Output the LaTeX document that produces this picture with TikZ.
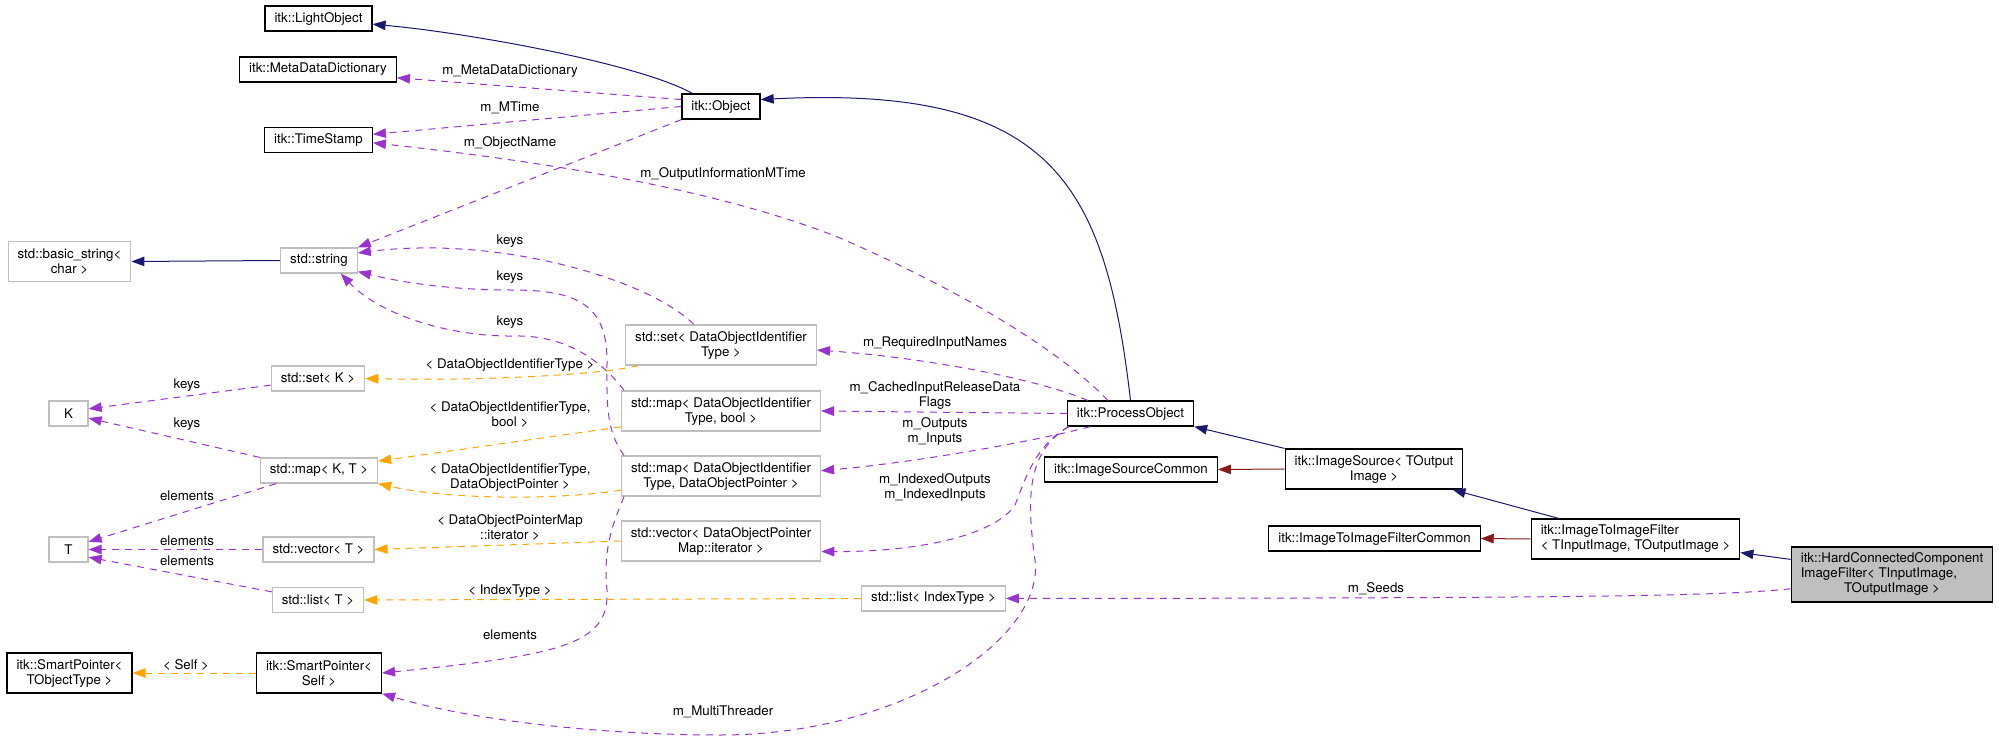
\documentclass[tikz,border=0pt]{standalone}
\usepackage{fontspec}
\setmainfont{TeX Gyre Heros}
\usetikzlibrary{arrows.meta, calc}
\definecolor{inhblue}{HTML}{191970}
\definecolor{privred}{HTML}{8B1A1A}
\definecolor{memviolet}{HTML}{9A32CD}
\definecolor{tplorange}{HTML}{FFA500}
\definecolor{boxgray}{HTML}{BFBFBF}
\newcommand{\dgfont}{\fontsize{13.3}{15}\selectfont}

\begin{document}
\begin{tikzpicture}[x=1pt, y=-1pt,
    cls/.style={draw=black, line width=1.2pt, fill=white, font=\dgfont, align=center,
                minimum height=25pt, inner xsep=9.5pt, inner ysep=0pt},
    ext/.style={cls, draw=boxgray},
    twoline/.style={minimum height=40pt},
    cur/.style={cls, fill=boxgray, minimum height=55pt},
    lab/.style={font=\dgfont, align=center, inner sep=0pt},
    tip/.style={-{Triangle[length=13pt, width=9.5pt]}},
    inh/.style={tip, draw=inhblue, line width=1pt},
    priv/.style={tip, draw=privred, line width=1pt},
    mem/.style={tip, draw=memviolet, line width=1pt, dash pattern=on 7pt off 6pt},
    tpl/.style={tip, draw=tplorange, line width=1pt, dash pattern=on 7pt off 6pt}]

    \useasboundingbox (0,0) rectangle (1999,741);

    % --- 1. 類別節點 (itk) ---
    \node[cls] (light) at (318.5,18.5) {itk::LightObject};
    \node[cls] (meta) at (318,69.5) {itk::MetaDataDictionary};
    \node[cls] (obj) at (721,106.5) {itk::Object};
    \node[cls] (stamp) at (318.5,140) {itk::TimeStamp};
    \node[cls] (proc) at (1130.5,413.5) {itk::ProcessObject};
    \node[cls] (srcCom) at (1131,469.5) {itk::ImageSourceCommon};
    \node[cls, twoline] (src) at (1374,469) {itk::ImageSource< TOutput\\Image >};
    \node[cls] (filtCom) at (1374.5,538.5) {itk::ImageToImageFilterCommon};
    \node[cls, twoline, align=left] (filt) at (1635.5,539) {itk::ImageToImageFilter\\< TInputImage, TOutputImage >};
    \node[cur] (hard) at (1892,574.5) {\begin{tabular}{@{}l@{}}itk::HardConnectedComponent\\ImageFilter< TInputImage,\\\multicolumn{1}{@{}c@{}}{TOutputImage >}\end{tabular}};
    \node[cls, twoline] (spObj) at (69.5,673) {itk::SmartPointer<\\TObjectType >};
    \node[cls, twoline] (spSelf) at (319,673) {itk::SmartPointer<\\Self >};

    % --- 2. 外部節點 (std) ---
    \node[ext, twoline] (bstr) at (69.5,261.5) {std::basic\_string<\\char >};
    \node[ext] (str) at (319,260.5) {std::string};
    \node[ext, twoline] (setDOI) at (721,345) {std::set< DataObjectIdentifier\\Type >};
    \node[ext] (setK) at (318,378.5) {std::set< K >};
    \node[ext, minimum width=39pt] (K) at (68.5,413.5) {K};
    \node[ext, twoline] (mapBool) at (721,411) {std::map< DataObjectIdentifier\\Type, bool >};
    \node[ext] (mapKT) at (319,470.5) {std::map< K, T >};
    \node[ext, twoline] (mapPtr) at (721,476) {std::map< DataObjectIdentifier\\Type, DataObjectPointer >};
    \node[ext, minimum width=39pt] (T) at (68.5,549.5) {T};
    \node[ext] (vecT) at (318.5,549.5) {std::vector< T >};
    \node[ext, twoline] (vecIt) at (721,541) {std::vector< DataObjectPointer\\Map::iterator >};
    \node[ext] (listT) at (318,600) {std::list< T >};
    \node[ext] (listIdx) at (933.5,598.5) {std::list< IndexType >};

    % --- 3. 繼承 ---
    \draw[inh] ($(obj.north west)+(11,0)$) .. controls (640,64) and (470,33) .. (light.-6);
    \draw[inh] (proc.north) .. controls (1105,180) and (1050,85) .. (obj.10);
    \draw[inh] (str.west) -- (bstr.east);
    \draw[inh] (src.north west) -- (proc.south east);
    \draw[inh] ($(filt.north west)+(28,0)$) -- ($(src.south east)+(-11,0)$);
    \draw[inh] ($(hard.north west)+(0,13)$) -- ($(filt.south east)+(0,-7)$);
    \draw[priv] (src.west) -- (srcCom.east);
    \draw[priv] (filt.west) -- (filtCom.east);

    % --- 4. 成員 ---
    \draw[mem] (obj.170) -- (meta.-6) node[lab] (lMeta) at (510,71) {m\_MetaDataDictionary};
    \draw[mem] (obj.west) -- (stamp.6) node[lab] (lMTime) at (510,108) {m\_MTime};
    \draw[mem] (obj.south west) -- (str.north east) node[lab] (lName) at (510,143) {m\_ObjectName};
    \draw[mem] (proc.150) .. controls (1060,350) and (960,290) .. (840,238)
        .. controls (720,190) and (550,162) .. (stamp.-3)
        node[lab] (lOutTime) at (723,174) {m\_OutputInformationMTime};
    \draw[mem] (proc.163) .. controls (1040,380) and (930,358) .. (setDOI.-3)
        node[lab] (lReq) at (935,343) {m\_RequiredInputNames};
    \draw[mem] (proc.west) -- (mapBool.east)
        node[lab] (lCached) at (935,395.5) {m\_CachedInputReleaseData\\Flags};
    \draw[mem] (proc.-162) .. controls (1040,440) and (920,462) .. (mapPtr.3)
        node[lab] (lOut) at (935,431.5) {m\_Outputs\\m\_Inputs};
    \draw[mem] (proc.-168) .. controls (1035,445) and (1025,480) .. (1015,505)
        .. controls (995,535) and (920,552) .. (vecIt.-6)
        node[lab] (lIdx) at (935,487.5) {m\_IndexedOutputs\\m\_IndexedInputs};
    \draw[mem] (proc.-168) .. controls (1030,450) and (1025,490) .. (1035,560)
        .. controls (1045,640) and (900,735) .. (720,735)
        .. controls (600,735) and (470,720) .. (spSelf.south east)
        node[lab] (lThr) at (723,712) {m\_MultiThreader};
    \draw[mem] (hard.-172) .. controls (1720,596) and (1600,598) .. (listIdx.east)
        node[lab] (lSeeds) at (1376,589) {m\_Seeds};

    % --- 5. keys / elements ---
    \draw[mem] (setDOI.143) .. controls (650,280) and (500,235) .. (str.11)
        node[lab] (lKeys1) at (510,241) {keys};
    \draw[mem] (mapPtr.168) .. controls (605,430) and (607,400) .. (607,360)
        .. controls (607,300) and (570,290) .. (510,290)
        .. controls (450,290) and (400,282) .. (str.-16)
        node[lab] (lKeys2) at (510,277) {keys};
    \draw[mem] (mapBool.168) .. controls (605,365) and (570,335) .. (515,336)
        .. controls (450,337) and (380,315) .. (str.-31)
        node[lab] (lKeys3) at (510,322) {keys};
    \draw[mem] (mapPtr.-168) .. controls (612,525) and (603,550) .. (607,590)
        .. controls (610,645) and (560,655) .. (spSelf.east)
        node[lab] (lElem1) at (510,635) {elements};
    \draw[mem] (setK.-172) -- (K.13) node[lab] (lKeys4) at (187,385) {keys};
    \draw[mem] (mapKT.north west) -- (K.-13) node[lab] (lKeys5) at (187,424) {keys};
    \draw[mem] (mapKT.-163) -- (T.21) node[lab] (lElem2) at (187,496) {elements};
    \draw[mem] (vecT.west) -- (T.east) node[lab] (lElem3) at (187,541) {elements};
    \draw[mem] (listT.170) -- (T.-21) node[lab] (lElem4) at (187,561) {elements};

    % --- 6. 模板實例 ---
    \draw[tpl] (setDOI.-166) .. controls (600,375) and (480,381) .. (setK.east)
        node[lab] (lSetArg) at (510,365) {< DataObjectIdentifierType >};
    \draw[tpl] (mapBool.-171) -- (mapKT.9)
        node[lab] (lBoolArg) at (510,414) {< DataObjectIdentifierType,\\bool >};
    \draw[tpl] (mapPtr.-172) .. controls (560,500) and (450,500) .. (mapKT.south east)
        node[lab] (lPtrArg) at (510,477) {< DataObjectIdentifierType,\\DataObjectPointer >};
    \draw[tpl] (vecIt.west) -- (vecT.east)
        node[lab] (lVecArg) at (510,527) {< DataObjectPointerMap\\::iterator >};
    \draw[tpl] (listIdx.west) -- (listT.east) node[lab] (lListArg) at (510,591) {< IndexType >};
    \draw[tpl] (spSelf.west) -- (spObj.east) node[lab] (lSelfArg) at (186,665) {< Self >};
\end{tikzpicture}
\end{document}
